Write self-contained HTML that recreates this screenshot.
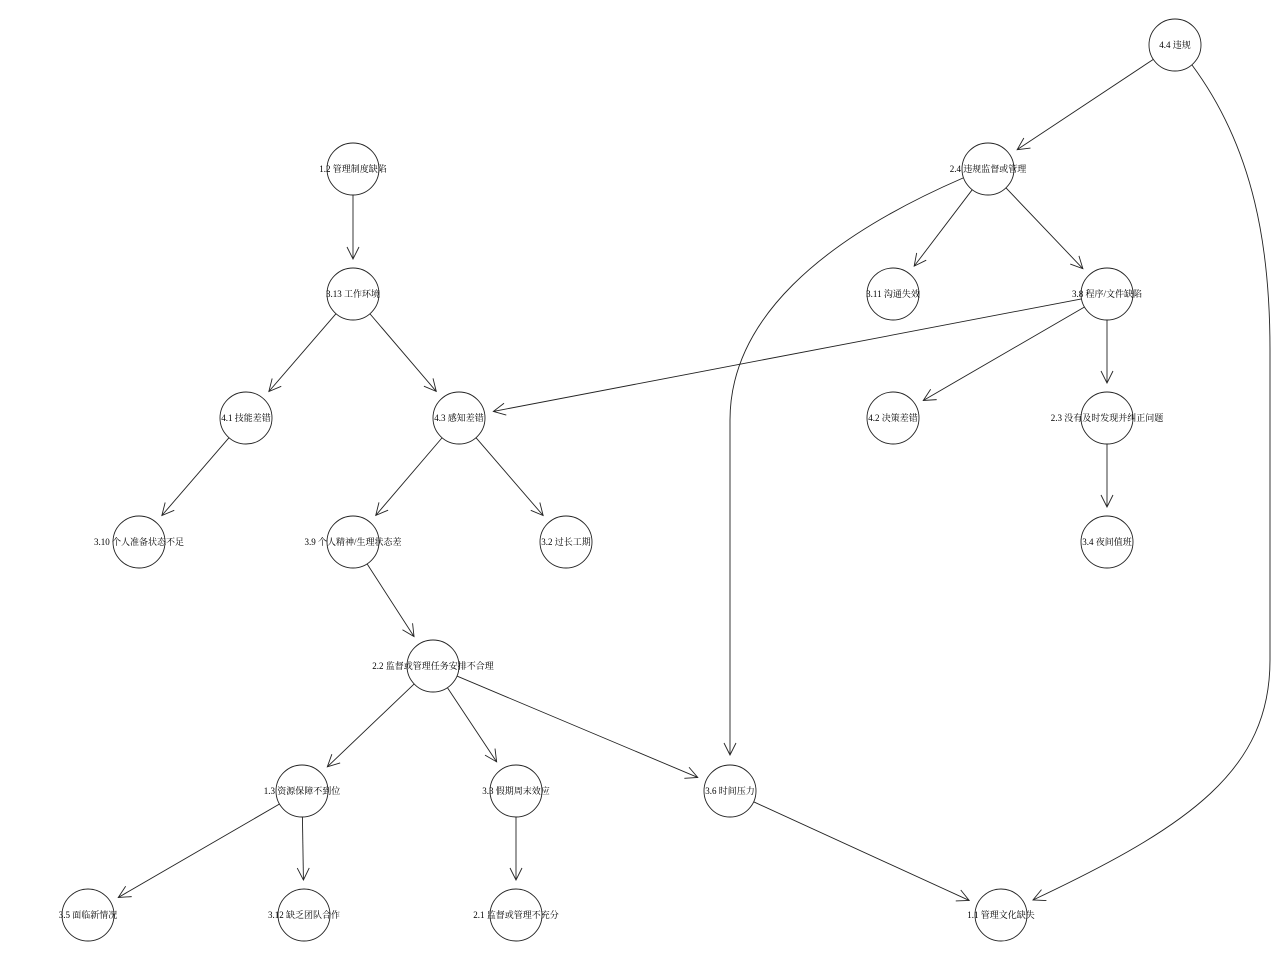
<!DOCTYPE html>
<html><head><meta charset="utf-8"><style>
html,body{margin:0;padding:0;background:#fff;width:1280px;height:960px;overflow:hidden}
text{font-family:"Liberation Serif","Noto Serif CJK SC",serif;font-size:9px;fill:#000}
</style></head><body>
<svg id="s" width="1280" height="960" xmlns="http://www.w3.org/2000/svg">
<g id="g" fill="none" stroke="#222" stroke-width="0.9"></g>
<g id="t"></g>
</svg>
<script>
const R=26;
const N={
a44:[1175,45,"4.4 违规"],a24:[988,169,"2.4 违规监督或管理"],a12:[353,169,"1.2 管理制度缺陷"],
a313:[353,294,"3.13 工作环境"],a311:[893,294,"3.11 沟通失效"],a38:[1107,294,"3.8 程序/文件缺陷"],
a41:[246,418,"4.1 技能差错"],a43:[459,418,"4.3 感知差错"],a42:[893,418,"4.2 决策差错"],
a23:[1107,418,"2.3 没有及时发现并纠正问题"],a310:[139,542,"3.10 个人准备状态不足"],
a39:[353,542,"3.9 个人精神/生理状态差"],a32:[566,542,"3.2 过长工期"],a34:[1107,542,"3.4 夜间值班"],
a22:[433,666,"2.2 监督或管理任务安排不合理"],a13:[302,791,"1.3 资源保障不到位"],
a33:[516,791,"3.3 假期周末效应"],a36:[730,791,"3.6 时间压力"],a35:[88,915,"3.5 面临新情况"],
a312:[304,915,"3.12 缺乏团队合作"],a21:[516,915,"2.1 监督或管理不充分"],a11:[1001,915,"1.1 管理文化缺失"]};
const E=[["a44","a24"],["a12","a313"],["a24","a311"],["a24","a38"],["a313","a41"],["a313","a43"],
["a38","a43"],["a38","a42"],["a38","a23"],["a41","a310"],["a43","a39"],["a43","a32"],["a23","a34"],
["a39","a22"],["a22","a13"],["a22","a33"],["a22","a36"],["a13","a35"],["a13","a312"],["a33","a21"],["a36","a11"]];
const g=document.getElementById('g'),t=document.getElementById('t');
let h='';
function arrow(x,y,dx,dy){const L=Math.hypot(dx,dy);dx/=L;dy/=L;const a=12,w=6;
const bx=x-dx*a,by=y-dy*a;return `<path d="M${bx-dy*w},${by+dx*w} L${x},${y} L${bx+dy*w},${by-dx*w}"/>`;}
for(const [p,q] of E){const A=N[p],B=N[q];let dx=B[0]-A[0],dy=B[1]-A[1];const L=Math.hypot(dx,dy);
const ux=dx/L,uy=dy/L;const x1=A[0]+ux*R,y1=A[1]+uy*R,x2=B[0]-ux*(R+9),y2=B[1]-uy*(R+9);
h+=`<line x1="${x1}" y1="${y1}" x2="${x2}" y2="${y2}"/>`+arrow(x2,y2,ux,uy);}
h+=`<path d="M963,178 C820,240 730,320 730,420 L730,755"/>`+arrow(730,755,0,1);
h+=`<path d="M1192,65 C1255,150 1270,250 1270,350 L1270,660 C1270,770 1190,826 1033,900"/>`+arrow(1033,900,-165,74);
for(const k in N){const [x,y]=N[k];h+=`<circle cx="${x}" cy="${y}" r="${R}"/>`;}
g.innerHTML=h;
let s='';for(const k in N){const [x,y,l]=N[k];s+=`<text x="${x}" y="${y+3}" text-anchor="middle">${l}</text>`;}
t.innerHTML=s;
</script>
</body></html>
